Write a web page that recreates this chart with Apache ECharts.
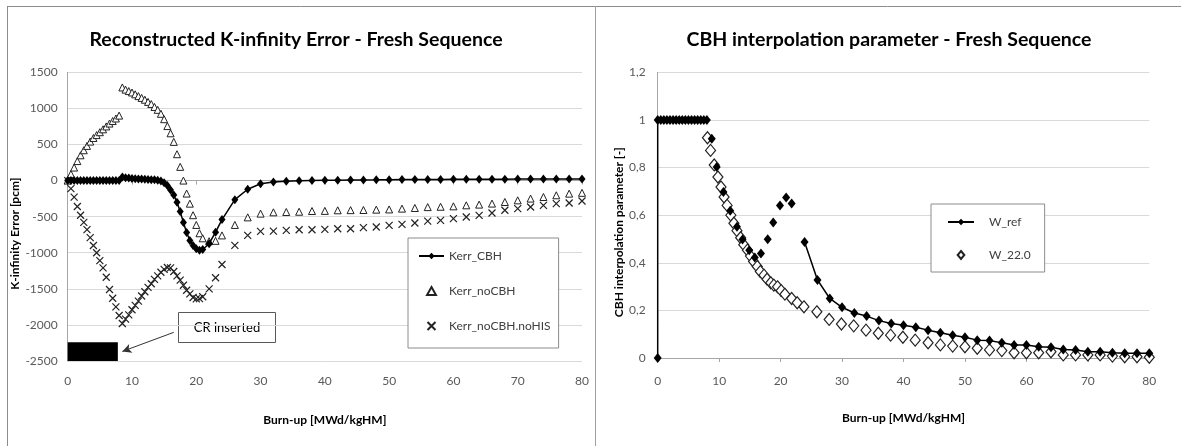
<!DOCTYPE html>
<html>
<head>
<meta charset="utf-8">
<script src="https://cdn.jsdelivr.net/npm/echarts@6/dist/echarts.min.js"></script>
<style>
html,body{margin:0;padding:0;background:#fff;}
#chart{width:1181px;height:446px;}
</style>
</head>
<body>
<div id="chart"></div>
<script>
// ---------- Left chart data ----------
const leftTitle = 'Reconstructed K-infinity Error - Fresh Sequence';
const rightTitle = 'CBH interpolation parameter - Fresh Sequence';
const xTicks = [0, 10, 20, 30, 40, 50, 60, 70, 80];

const cbhX = [0,0.5,1,1.5,2,2.5,3,3.5,4,4.5,5,5.5,6,6.5,7,7.5,8,
  8.5,9,9.5,10,10.5,11,11.5,12,12.5,13,13.5,14,14.5,15,15.5,16,16.5,17,17.5,18,18.5,19,19.5,20,20.5,21,
  22,23,24,26,28,30,32,34,36,38,40,42,44,46,48,50,52,54,56,58,60,62,64,66,68,70,72,74,76,78,80];
const cbhY = [0,0,0,0,0,0,0,0,0,0,0,0,0,0,0,0,0,
  50,40,35,30,25,22,20,18,15,12,10,5,-5,-30,-70,-130,-200,-300,-430,-580,-720,-830,-900,-945,-965,-955,
  -875,-715,-540,-265,-120,-45,-20,-10,-3,0,3,5,7,9,10,12,13,14,15,16,18,18,18,19,19,20,20,20,20,21,22];

const noCbhX = [0,0.5,1,1.5,2,2.5,3,3.5,4,4.5,5,5.5,6,6.5,7,7.5,8,
  8.5,9,9.5,10,10.5,11,11.5,12,12.5,13,13.5,14,14.5,15,15.5,16,16.5,17,17.5,18,18.5,19,19.5,20,20.5,21,
  22,23,24,26,28,30,32,34,36,38,40,42,44,46,48,50,52,54,56,58,60,62,64,66,68,70,72,74,76,78,80];
const noCbhY = [0,90,180,270,350,420,480,540,590,630,670,710,750,790,825,860,900,
  1290,1260,1240,1220,1195,1170,1145,1120,1090,1060,1020,980,925,850,755,655,536,365,190,0,-180,-320,-480,-615,-730,-800,
  -840,-835,-760,-615,-510,-458,-440,-436,-432,-422,-420,-412,-410,-408,-403,-400,-389,-380,-368,-363,-357,-343,-333,-319,-297,-274,-250,-228,-204,-181,-170];

const noHisX = noCbhX;
const noHisY = [0,-112,-230,-360,-480,-580,-680,-790,-900,-1000,-1110,-1210,-1340,-1510,-1630,-1750,-1870,
  -1980,-1920,-1860,-1790,-1730,-1670,-1600,-1540,-1480,-1430,-1370,-1320,-1270,-1230,-1205,-1210,-1260,-1320,-1380,-1450,-1520,-1570,-1620,-1640,-1635,-1610,
  -1500,-1347,-1163,-899,-760,-704,-700,-690,-681,-681,-676,-667,-667,-653,-644,-620,-607,-588,-561,-551,-528,-505,-482,-450,-412,-389,-366,-343,-319,-311,-283];

// ---------- Right chart data ----------
const wRefX = [0,0,0.5,1,1.5,2,2.5,3,3.5,4,4.5,5,5.5,6,6.5,7,7.5,8,
  8.8,9.6,10.7,11.8,12.9,13.8,14.9,15.8,16.8,17.9,18.8,19.9,20.9,21.8,
  23.9,26,28,30,32,34,36,38,40,42,44,46,48,50,52,54,56,58,60,62,64,66,68,70,72,74,76,78,80];
const wRefY = [0,1,1,1,1,1,1,1,1,1,1,1,1,1,1,1,1,1,
  0.921,0.802,0.697,0.618,0.551,0.498,0.453,0.422,0.439,0.499,0.569,0.641,0.674,0.649,
  0.487,0.328,0.25,0.213,0.189,0.176,0.157,0.145,0.138,0.129,0.117,0.106,0.096,0.087,0.075,0.073,0.064,0.055,0.055,0.047,0.045,0.036,0.034,0.026,0.026,0.022,0.02,0.02,0.02];

const w22X = [8.1,8.6,9.2,9.8,10.3,10.8,11.3,11.9,12.4,12.9,13.5,14.0,14.6,15.1,15.6,16.2,16.7,17.3,17.8,18.4,18.9,19.5,20.1,20.7,21.8,22.7,23.8,
  25.9,27.9,29.9,31.9,33.9,35.9,37.9,39.9,41.9,44,46,48,50,52,54,56,58,60,62,64,66,68,70,72,74,76,78,80];
const w22Y = [0.925,0.872,0.811,0.76,0.718,0.676,0.641,0.6,0.566,0.535,0.505,0.476,0.453,0.428,0.405,0.384,0.363,0.348,0.331,0.316,0.306,0.299,0.283,0.268,0.25,0.232,0.215,
  0.194,0.162,0.143,0.135,0.117,0.104,0.096,0.087,0.075,0.064,0.055,0.05,0.047,0.041,0.034,0.031,0.022,0.022,0.022,0.026,0.013,0.013,0.013,0.013,0.008,0.005,0.005,0.003];

const legendLeft = ['Kerr_CBH', 'Kerr_noCBH', 'Kerr_noCBH.noHIS'];
const legendRight = ['W_ref', 'W_22.0'];

// ---------- build ----------
const FONT = 'Lato, "Open Sans", sans-serif';
const pairs = (xs, ys) => xs.map((x, i) => [x, ys[i]]);
const GAP_LO = 8, GAP_HI = 23;
const wRefLine = [];
const wRefMid = [];
let gapPushed = false;
wRefX.forEach((x, i) => {
  if (x > GAP_LO && x < GAP_HI) {
    if (!gapPushed) { wRefLine.push([x, '-']); gapPushed = true; }
    wRefMid.push([x, wRefY[i]]);
  } else {
    wRefLine.push([x, wRefY[i]]);
  }
});

const xSymbol = 'path://M0,0L10,10M10,0L0,10';
const triSymbol = 'path://M5,0L10,9L0,9Z';
const diaSymbol = 'path://M5,0L10,6L5,12L0,6Z';
const axisLineStyle = { lineStyle: { color: '#a6a6a6', width: 1 } };
const tickLabel = { color: '#595959', fontSize: 12, fontFamily: FONT };
const nameStyle = { color: '#000', fontSize: 12, fontWeight: 'bold', fontFamily: FONT };

const chart = echarts.init(document.getElementById('chart'), null, { renderer: 'canvas' });
chart.setOption({
  animation: false,
  backgroundColor: '#fff',
  title: [
    { text: leftTitle, left: 291, top: 25, textAlign: 'center',
      textStyle: { fontSize: 19.5, fontWeight: 'bold', color: '#000', fontFamily: FONT } },
    { text: rightTitle, left: 884, top: 25, textAlign: 'center',
      textStyle: { fontSize: 19.5, fontWeight: 'bold', color: '#000', fontFamily: FONT } }
  ],
  grid: [
    { left: 67.7, top: 72.3, width: 514.3, height: 288.7 },
    { left: 657.7, top: 72.3, width: 491.6, height: 285.7 }
  ],
  xAxis: [
    { gridIndex: 0, type: 'value', min: 0, max: 80, interval: 10,
      name: 'Burn-up [MWd/kgHM]', nameLocation: 'middle', nameGap: 53, nameTextStyle: nameStyle,
      axisLine: axisLineStyle, axisTick: { show: true, length: 4, lineStyle: { color: '#a6a6a6' } },
      axisLabel: Object.assign({ margin: 14 }, tickLabel), splitLine: { show: false } },
    { gridIndex: 1, type: 'value', min: 0, max: 80, interval: 10,
      name: 'Burn-up [MWd/kgHM]', nameLocation: 'middle', nameGap: 54, nameTextStyle: nameStyle,
      axisLine: axisLineStyle, axisTick: { show: true, length: 4, lineStyle: { color: '#a6a6a6' } },
      axisLabel: Object.assign({ margin: 17 }, tickLabel), splitLine: { show: false } }
  ],
  yAxis: [
    { gridIndex: 0, type: 'value', min: -2500, max: 1500, interval: 500,
      name: 'K-infinity Error [pcm]', nameLocation: 'middle', nameGap: 39,
      nameTextStyle: Object.assign({ padding: [0, 34, 0, 0] }, nameStyle),
      axisLine: { show: true, lineStyle: { color: '#a6a6a6' } }, axisTick: { show: false },
      axisLabel: Object.assign({ margin: 10, formatter: v => String(v) }, tickLabel),
      splitLine: { show: true, lineStyle: { color: '#d9d9d9', width: 1 } } },
    { gridIndex: 1, type: 'value', min: 0, max: 1.2, interval: 0.2,
      name: 'CBH interpolation parameter [-]', nameLocation: 'middle', nameGap: 33,
      nameTextStyle: Object.assign({ padding: [0, 34, 0, 0] }, nameStyle),
      axisLine: { show: true, lineStyle: { color: '#a6a6a6' } }, axisTick: { show: false },
      axisLabel: Object.assign({ margin: 12,
        formatter: v => String(Number(v.toFixed(1))).replace('.', ',') }, tickLabel),
      splitLine: { show: true, lineStyle: { color: '#d9d9d9', width: 1 } } }
  ],
  legend: [
    { data: legendLeft, orient: 'vertical', left: 408, top: 238,
      padding: [12, 8, 16, 10], itemGap: 23, itemWidth: 25, itemHeight: 8,
      backgroundColor: '#fff', borderColor: '#8c8c8c', borderWidth: 1, borderRadius: 0,
      textStyle: { color: '#404040', fontSize: 12, fontFamily: FONT } },
    { data: legendRight, orient: 'vertical', left: 931, top: 204,
      padding: [12, 14, 11, 16], itemGap: 21, itemWidth: 26, itemHeight: 8,
      backgroundColor: '#fff', borderColor: '#8c8c8c', borderWidth: 1, borderRadius: 0,
      textStyle: { color: '#404040', fontSize: 12, fontFamily: FONT, padding: [0, 0, 0, 10] } }
  ],
  graphic: [
    { type: 'line', shape: { x1: 7, y1: 6.5, x2: 1181, y2: 6.5 }, style: { stroke: '#8c8c8c', lineWidth: 1 }, silent: true },
    { type: 'line', shape: { x1: 7.5, y1: 6, x2: 7.5, y2: 446 }, style: { stroke: '#8c8c8c', lineWidth: 1 }, silent: true },
    { type: 'line', shape: { x1: 595.5, y1: 6, x2: 595.5, y2: 446 }, style: { stroke: '#a0a0a0', lineWidth: 1 }, silent: true },
    { type: 'group', left: 178, top: 312, z: 100, children: [
      { type: 'rect', shape: { x: 0, y: 0, width: 97, height: 30 }, style: { fill: '#fff', stroke: '#595959', lineWidth: 1 } },
      { type: 'text', x: 48.5, y: 15, style: { text: 'CR inserted', fill: '#000', font: '13px ' + FONT, align: 'center', verticalAlign: 'middle' } }
    ] }
  ],
  series: [
    { name: 'Kerr_CBH', type: 'line', xAxisIndex: 0, yAxisIndex: 0, data: pairs(cbhX, cbhY),
      symbol: 'diamond', symbolSize: [7, 9], showAllSymbol: true, z: 5,
      itemStyle: { color: '#000' }, lineStyle: { color: '#000', width: 1.5 },
      markArea: { silent: true, itemStyle: { color: '#000' },
        data: [[{ coord: [0, -2500] }, { coord: [7.8, -2240] }]] },
      markLine: { silent: true, symbol: ['none', 'arrow'], symbolSize: [7, 9], label: { show: false },
        lineStyle: { color: '#333', width: 1, type: 'solid' },
        data: [[{ coord: [16.5, -2103] }, { coord: [8.5, -2367] }]] } },
    { name: 'Kerr_noCBH', type: 'scatter', xAxisIndex: 0, yAxisIndex: 0, data: pairs(noCbhX, noCbhY),
      symbol: triSymbol, symbolSize: [7, 7], z: 4,
      itemStyle: { color: '#fff', borderColor: '#222', borderWidth: 1, opacity: 1 } },
    { name: 'Kerr_noCBH.noHIS', type: 'scatter', xAxisIndex: 0, yAxisIndex: 0, data: pairs(noHisX, noHisY),
      symbol: xSymbol, symbolSize: 7, z: 3,
      itemStyle: { color: 'rgba(0,0,0,0)', borderColor: '#222', borderWidth: 1.2, opacity: 1 } },
    { name: 'W_ref', type: 'line', xAxisIndex: 1, yAxisIndex: 1, data: wRefLine,
      symbol: 'diamond', symbolSize: [8, 10], showAllSymbol: true, connectNulls: false, z: 5,
      itemStyle: { color: '#000' }, lineStyle: { color: '#000', width: 1.5 } },
    { name: 'W_ref', type: 'scatter', xAxisIndex: 1, yAxisIndex: 1, data: wRefMid,
      symbol: 'diamond', symbolSize: [8, 10], z: 5, itemStyle: { color: '#000', opacity: 1 } },
    { name: 'W_22.0', type: 'scatter', xAxisIndex: 1, yAxisIndex: 1, data: pairs(w22X, w22Y),
      symbol: diaSymbol, symbolSize: [10, 12], z: 4,
      itemStyle: { color: '#fff', borderColor: '#222', borderWidth: 1.2, opacity: 1 } }
  ]
});
</script>
</body>
</html>
